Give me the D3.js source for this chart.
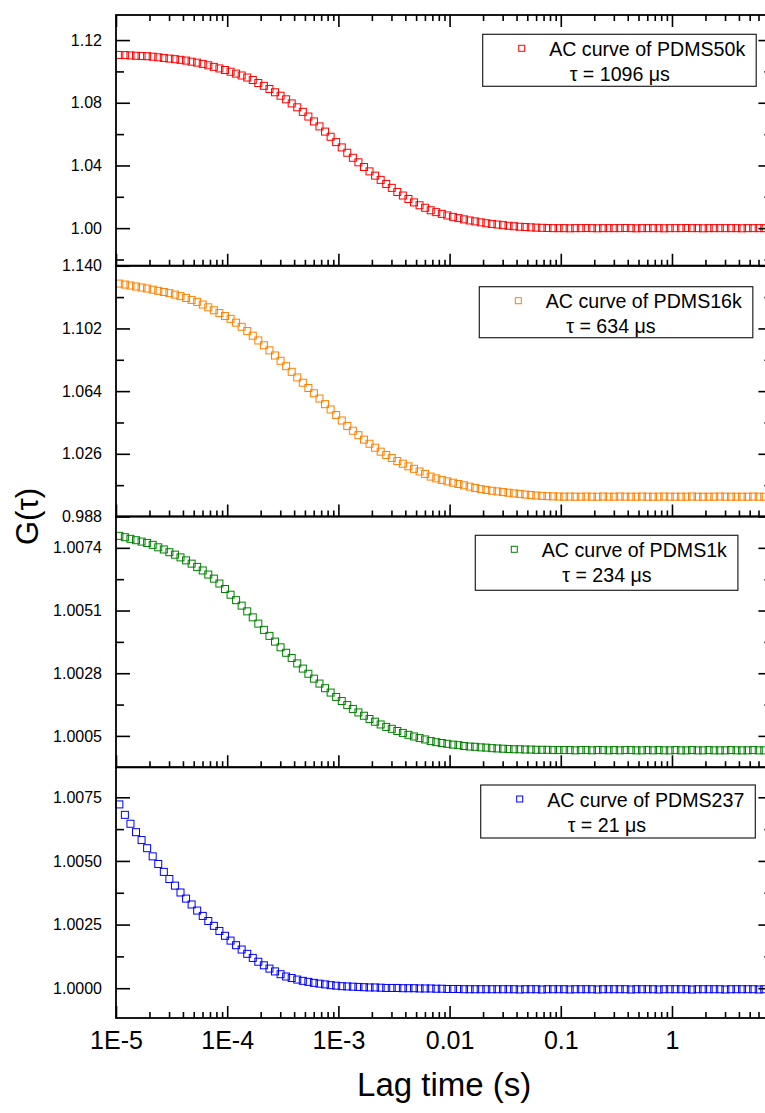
<!DOCTYPE html>
<html>
<head>
<meta charset="utf-8">
<script src="https://cdn.jsdelivr.net/npm/d3@7"></script>
<style>
  html, body { margin: 0; padding: 0; background: #fff; }
  svg { display: block; font-family: "Liberation Sans", Arial, sans-serif; }
</style>
</head>
<body>
<div id="chart"></div>
<script>
// lag times (s), shared by all four curves
const lagTime = [
  1.072e-5, 1.202e-5, 1.349e-5, 1.514e-5, 1.698e-5, 1.905e-5, 2.138e-5, 2.399e-5, 2.692e-5, 3.020e-5,
  3.388e-5, 3.802e-5, 4.266e-5, 4.786e-5, 5.370e-5, 6.026e-5, 6.761e-5, 7.586e-5, 8.511e-5, 9.550e-5,
  1.072e-4, 1.202e-4, 1.349e-4, 1.514e-4, 1.698e-4, 1.905e-4, 2.138e-4, 2.399e-4, 2.692e-4, 3.020e-4,
  3.388e-4, 3.802e-4, 4.266e-4, 4.786e-4, 5.370e-4, 6.026e-4, 6.761e-4, 7.586e-4, 8.511e-4, 9.550e-4,
  1.072e-3, 1.202e-3, 1.349e-3, 1.514e-3, 1.698e-3, 1.905e-3, 2.138e-3, 2.399e-3, 2.692e-3, 3.020e-3,
  3.388e-3, 3.802e-3, 4.266e-3, 4.786e-3, 5.370e-3, 6.026e-3, 6.761e-3, 7.586e-3, 8.511e-3, 9.550e-3,
  1.072e-2, 1.202e-2, 1.349e-2, 1.514e-2, 1.698e-2, 1.905e-2, 2.138e-2, 2.399e-2, 2.692e-2, 3.020e-2,
  3.388e-2, 3.802e-2, 4.266e-2, 4.786e-2, 5.370e-2, 6.026e-2, 6.761e-2, 7.586e-2, 8.511e-2, 9.550e-2,
  0.1072, 0.1202, 0.1349, 0.1514, 0.1698, 0.1905, 0.2138, 0.2399, 0.2692, 0.3020,
  0.3388, 0.3802, 0.4266, 0.4786, 0.5370, 0.6026, 0.6761, 0.7586, 0.8511, 0.9550,
  1.072, 1.202, 1.349, 1.514, 1.698, 1.905, 2.138, 2.399, 2.692, 3.020,
  3.388, 3.802, 4.266, 4.786, 5.370, 6.026, 6.761, 7.586
];

const gPDMS50k = [
  1.1105, 1.1104, 1.1102, 1.1100, 1.1098, 1.1097, 1.1094, 1.1090, 1.1086, 1.1082,
  1.1078, 1.1074, 1.1069, 1.1062, 1.1056, 1.1048, 1.1039, 1.1029, 1.1019, 1.1009,
  1.0998, 1.0986, 1.0974, 1.0961, 1.0945, 1.0926, 1.0908, 1.0888, 1.0867, 1.0845,
  1.0822, 1.0796, 1.0771, 1.0742, 1.0712, 1.0681, 1.0649, 1.0616, 1.0583, 1.0549,
  1.0515, 1.0481, 1.0449, 1.0420, 1.0390, 1.0362, 1.0335, 1.0308, 1.0282, 1.0257,
  1.0231, 1.0208, 1.0186, 1.0164, 1.0146, 1.0130, 1.0114, 1.0102, 1.0091, 1.0081,
  1.0072, 1.0064, 1.0056, 1.0049, 1.0043, 1.0037, 1.0031, 1.0027, 1.0023, 1.0019,
  1.0015, 1.0012, 1.0009, 1.0007, 1.0005, 1.0003, 1.0002, 1.0001, 1.0000, 1.0000,
  1.0000, 0.9999, 1.0000, 1.0000, 1.0001, 1.0000, 0.9999, 1.0000, 1.0000, 1.0000,
  1.0000, 1.0001, 1.0000, 0.9999, 1.0000, 1.0000, 1.0000, 1.0000, 0.9999, 1.0000,
  1.0000, 1.0000, 1.0001, 1.0000, 1.0000, 0.9999, 1.0000, 1.0000, 1.0000, 1.0000,
  1.0000, 1.0000, 0.9999, 1.0000, 1.0000, 1.0000, 1.0000, 1.0000
];

const gPDMS16k = [
  1.1292, 1.1286, 1.1280, 1.1274, 1.1268, 1.1262, 1.1255, 1.1248, 1.1241, 1.1234,
  1.1225, 1.1216, 1.1205, 1.1193, 1.1181, 1.1165, 1.1148, 1.1130, 1.1113, 1.1095,
  1.1078, 1.1055, 1.1030, 1.1004, 1.0976, 1.0947, 1.0918, 1.0887, 1.0856, 1.0824,
  1.0791, 1.0757, 1.0723, 1.0691, 1.0659, 1.0627, 1.0595, 1.0561, 1.0529, 1.0495,
  1.0462, 1.0429, 1.0400, 1.0373, 1.0346, 1.0321, 1.0297, 1.0273, 1.0253, 1.0235,
  1.0216, 1.0200, 1.0184, 1.0169, 1.0153, 1.0138, 1.0122, 1.0111, 1.0102, 1.0093,
  1.0085, 1.0077, 1.0069, 1.0061, 1.0053, 1.0046, 1.0041, 1.0036, 1.0032, 1.0028,
  1.0024, 1.0020, 1.0017, 1.0013, 1.0010, 1.0007, 1.0005, 1.0003, 1.0002, 1.0001,
  1.0000, 1.0001, 1.0000, 1.0000, 1.0001, 1.0000, 1.0000, 1.0001, 1.0000, 1.0000,
  1.0001, 1.0000, 1.0000, 1.0000, 1.0001, 1.0000, 1.0000, 1.0000, 1.0001, 1.0000,
  1.0000, 1.0000, 1.0000, 1.0001, 1.0000, 1.0000, 1.0000, 1.0000, 1.0001, 1.0000,
  1.0000, 1.0000, 1.0000, 1.0000, 1.0001, 1.0000, 1.0000, 1.0000
];

const gPDMS1k = [
  1.00784, 1.00779, 1.00773, 1.00768, 1.00763, 1.00758, 1.00751, 1.00742, 1.00734, 1.00724,
  1.00715, 1.00705, 1.00694, 1.00682, 1.00670, 1.00657, 1.00642, 1.00627, 1.00609, 1.00589,
  1.00568, 1.00548, 1.00528, 1.00507, 1.00485, 1.00462, 1.00439, 1.00417, 1.00396, 1.00375,
  1.00355, 1.00336, 1.00316, 1.00297, 1.00278, 1.00260, 1.00242, 1.00225, 1.00209, 1.00193,
  1.00178, 1.00163, 1.00149, 1.00136, 1.00124, 1.00112, 1.00102, 1.00092, 1.00083, 1.00076,
  1.00068, 1.00061, 1.00054, 1.00048, 1.00042, 1.00037, 1.00031, 1.00027, 1.00024, 1.00021,
  1.00018, 1.00016, 1.00013, 1.00011, 1.00010, 1.00008, 1.00007, 1.00005, 1.00004, 1.00003,
  1.00002, 1.00001, 1.00001, 1.00000, 1.00000, 0.99999, 0.99999, 0.99999, 0.99998, 0.99998,
  0.99998, 0.99998, 0.99997, 0.99998, 0.99998, 0.99997, 0.99998, 0.99998, 0.99997, 0.99998,
  0.99997, 0.99998, 0.99998, 0.99997, 0.99997, 0.99998, 0.99997, 0.99998, 0.99997, 0.99997,
  0.99998, 0.99997, 0.99997, 0.99998, 0.99997, 0.99997, 0.99998, 0.99997, 0.99997, 0.99997,
  0.99998, 0.99997, 0.99997, 0.99997, 0.99998, 0.99997, 0.99997, 0.99997
];

const gPDMS237 = [
  1.00722, 1.00681, 1.00646, 1.00613, 1.00582, 1.00550, 1.00518, 1.00488, 1.00457, 1.00429,
  1.00403, 1.00376, 1.00352, 1.00329, 1.00305, 1.00284, 1.00264, 1.00245, 1.00225, 1.00206,
  1.00187, 1.00169, 1.00152, 1.00135, 1.00119, 1.00104, 1.00090, 1.00077, 1.00066, 1.00055,
  1.00046, 1.00040, 1.00034, 1.00029, 1.00025, 1.00021, 1.00018, 1.00015, 1.00012, 1.00010,
  1.00008, 1.00007, 1.00006, 1.00005, 1.00004, 1.00003, 1.00003, 1.00002, 1.00001, 1.00001,
  1.00001, 1.00000, 1.00000, 1.00000, 0.99999, 0.99999, 0.99999, 0.99998, 0.99998, 0.99997,
  0.99997, 0.99997, 0.99996, 0.99996, 0.99996, 0.99996, 0.99996, 0.99996, 0.99996, 0.99996,
  0.99996, 0.99996, 0.99995, 0.99996, 0.99996, 0.99996, 0.99995, 0.99996, 0.99996, 0.99996,
  0.99996, 0.99995, 0.99996, 0.99996, 0.99996, 0.99996, 0.99995, 0.99996, 0.99996, 0.99996,
  0.99996, 0.99996, 0.99995, 0.99996, 0.99996, 0.99996, 0.99996, 0.99995, 0.99996, 0.99996,
  0.99996, 0.99996, 0.99996, 0.99995, 0.99996, 0.99996, 0.99996, 0.99996, 0.99996, 0.99995,
  0.99996, 0.99996, 0.99996, 0.99996, 0.99996, 0.99995, 0.99996, 0.99996
];

const sampleNames = ["PDMS50k", "PDMS16k", "PDMS1k", "PDMS237"];
const tauMicro = [1096, 634, 234, 21];
const seriesValues = [gPDMS50k, gPDMS16k, gPDMS1k, gPDMS237];
const colors = ["#ff0000", "#ff8000", "#008000", "#0000ff"];

const yDomains = [[0.976, 1.136], [0.988, 1.140], [0.99935, 1.00855], [0.99883, 1.00868]];
const yMajorTicks = [
  [1.00, 1.04, 1.08, 1.12],
  [0.988, 1.026, 1.064, 1.102, 1.140],
  [1.0005, 1.0028, 1.0051, 1.0074],
  [1.0000, 1.0025, 1.0050, 1.0075]
];
const yMinorTicks = [
  [0.98, 1.02, 1.06, 1.10],
  [1.007, 1.045, 1.083, 1.121],
  [1.00165, 1.00395, 1.00625],
  [1.00125, 1.00375, 1.00625]
];
const yTickFormats = [".2f", ".3f", ".4f", ".4f"];

const xDomain = [1e-5, 8];
const xTickValues = [1e-5, 1e-4, 1e-3, 1e-2, 1e-1, 1];
const xTickLabels = ["1E-5", "1E-4", "1E-3", "0.01", "0.1", "1"];

// layout
const width = 765, height = 1113;
const plotLeft = 116, plotRight = 772.4, plotTop = 15, panelH = 250.75;
const legendLeft = [482.7, 479.3, 475.3, 480.7];
const legendTop = [34.3, 286.7, 535.3, 785];
const legendH = [52, 51, 55, 53];
const legendFont = 19.6;

const svg = d3.select("#chart").append("svg")
    .attr("width", width)
    .attr("height", height)
    .attr("viewBox", [0, 0, width, height]);

const x = d3.scaleLog().domain(xDomain).range([plotLeft, plotRight]);
const xMinor = x.ticks().filter(d => !xTickValues.includes(d));

function styleTicks(sel, w) {
    sel.select(".domain").remove();
    sel.selectAll(".tick line").attr("stroke", "#000").attr("stroke-width", w);
}

sampleNames.forEach((name, i) => {
    const top = plotTop + i * panelH;
    const bottom = top + panelH;
    const y = d3.scaleLinear().domain(yDomains[i]).range([bottom, top]);
    const g = svg.append("g");

    // data points: open squares
    const vals = seriesValues[i];
    g.append("g").selectAll("rect")
        .data(lagTime.map((t, k) => ({ t, v: vals[k] })))
        .join("rect")
        .attr("x", d => x(d.t) - 3.5)
        .attr("y", d => y(d.v) - 3.5)
        .attr("width", 7)
        .attr("height", 7)
        .attr("fill", "none")
        .attr("stroke", colors[i])
        .attr("stroke-width", 1);

    // bottom x ticks (inward)
    const isLast = i === sampleNames.length - 1;
    g.append("g")
        .attr("transform", `translate(0,${bottom})`)
        .call(d3.axisBottom(x).tickValues(xTickValues).tickSizeInner(-12).tickSizeOuter(0)
            .tickPadding(13)
            .tickFormat((d, k) => isLast ? xTickLabels[k] : ""))
        .call(s => styleTicks(s, 1.6))
        .call(s => s.selectAll("text").attr("fill", "#000").attr("font-size", 25)
            .attr("font-family", "'Liberation Sans', Arial, sans-serif"));
    g.append("g")
        .attr("transform", `translate(0,${bottom})`)
        .call(d3.axisBottom(x).tickValues(xMinor).tickSizeInner(-6).tickSizeOuter(0).tickFormat(""))
        .call(s => styleTicks(s, 1.6));

    if (i === 0) {
        g.append("g")
            .attr("transform", `translate(0,${top})`)
            .call(d3.axisTop(x).tickValues(xTickValues).tickSizeInner(-12).tickSizeOuter(0).tickFormat(""))
            .call(s => styleTicks(s, 1.6));
        g.append("g")
            .attr("transform", `translate(0,${top})`)
            .call(d3.axisTop(x).tickValues(xMinor).tickSizeInner(-6).tickSizeOuter(0).tickFormat(""))
            .call(s => styleTicks(s, 1.6));
    }

    // y ticks, left with labels and right without
    g.append("g")
        .attr("transform", `translate(${plotLeft},0)`)
        .call(d3.axisLeft(y).tickValues(yMajorTicks[i]).tickSizeInner(-14).tickSizeOuter(0)
            .tickPadding(14).tickFormat(d3.format(yTickFormats[i])))
        .call(s => styleTicks(s, 1.6))
        .call(s => s.selectAll("text").attr("fill", "#000").attr("font-size", 16)
            .attr("font-family", "'Liberation Sans', Arial, sans-serif"));
    g.append("g")
        .attr("transform", `translate(${plotLeft},0)`)
        .call(d3.axisLeft(y).tickValues(yMinorTicks[i]).tickSizeInner(-8).tickSizeOuter(0).tickFormat(""))
        .call(s => styleTicks(s, 1.6));
    g.append("g")
        .attr("transform", `translate(${plotRight},0)`)
        .call(d3.axisRight(y).tickValues(yMajorTicks[i]).tickSizeInner(-14).tickSizeOuter(0).tickFormat(""))
        .call(s => styleTicks(s, 1.6));
    g.append("g")
        .attr("transform", `translate(${plotRight},0)`)
        .call(d3.axisRight(y).tickValues(yMinorTicks[i]).tickSizeInner(-8).tickSizeOuter(0).tickFormat(""))
        .call(s => styleTicks(s, 1.6));

    // frame
    g.append("rect")
        .attr("x", plotLeft).attr("y", top)
        .attr("width", plotRight - plotLeft).attr("height", panelH)
        .attr("fill", "none").attr("stroke", "#000").attr("stroke-width", 1.8);

    // legend
    const lx = legendLeft[i], ly = legendTop[i];
    const leg = g.append("g");
    const box = leg.append("rect")
        .attr("x", lx).attr("y", ly).attr("height", legendH[i])
        .attr("fill", "#fff").attr("stroke", "#222").attr("stroke-width", 1.2);
    leg.append("rect")
        .attr("x", lx + 39 - 3).attr("y", ly + 14 - 3)
        .attr("width", 6).attr("height", 6)
        .attr("fill", "none").attr("stroke", colors[i]).attr("stroke-width", 1);
    const t1 = leg.append("text")
        .attr("x", lx + 66.5).attr("y", ly + 21.5)
        .attr("font-size", legendFont).attr("fill", "#000")
        .text(`AC curve of ${name}`);
    leg.append("text")
        .attr("x", lx + 87).attr("y", ly + 46.5)
        .attr("font-size", legendFont).attr("fill", "#000")
        .text(`\u03C4 = ${tauMicro[i]} \u03BCs`);
    const textEnd = lx + 66.5 + t1.node().getComputedTextLength();
    box.attr("width", textEnd + 11 - lx);
});

// axis titles
svg.append("text")
    .attr("transform", `translate(27,${plotTop + 2 * panelH}) rotate(-90)`)
    .attr("text-anchor", "middle")
    .attr("dominant-baseline", "central")
    .attr("font-size", 31)
    .attr("fill", "#000")
    .text("G(\u03C4)");

svg.append("text")
    .attr("x", (plotLeft + plotRight) / 2 - 0)
    .attr("y", 1096)
    .attr("text-anchor", "middle")
    .attr("font-size", 33)
    .attr("fill", "#000")
    .text("Lag time (s)");
</script>
</body>
</html>
